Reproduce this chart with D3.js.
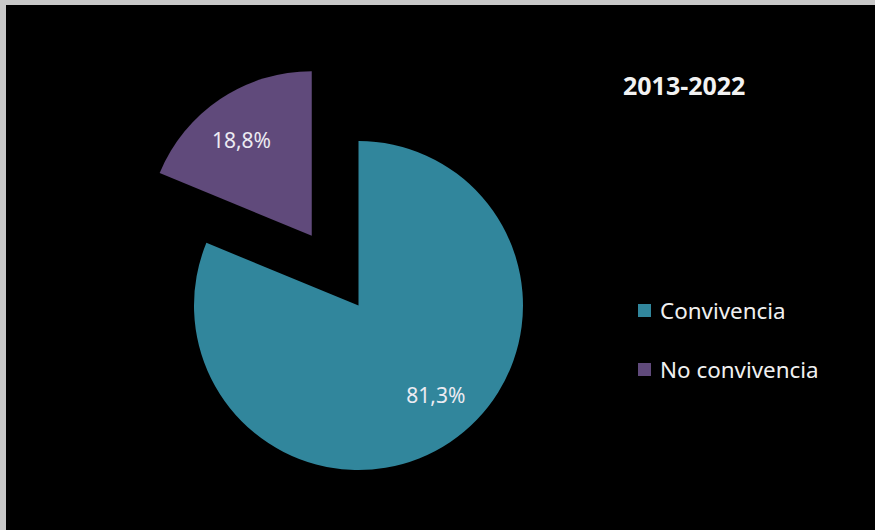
<!DOCTYPE html>
<html><head><meta charset="utf-8">
<script src="https://cdn.jsdelivr.net/npm/d3@7"></script>
<style>html,body{margin:0;padding:0;background:#000;}svg{display:block;}</style>
</head><body>
<script>
const categories = ["Convivencia", "No convivencia"];
const values = [81.3, 18.8];
const labels = ["81,3%", "18,8%"];
const colors = ["#31869C", "#604A7B"];
const title = "2013-2022";

const W = 875, H = 530;
const svg = d3.select("body").append("svg").attr("width", W).attr("height", H);
svg.append("rect").attr("width", W).attr("height", H).attr("fill", "#c8c8c8");
svg.append("rect").attr("x", 6).attr("y", 5).attr("width", W - 6).attr("height", H - 5).attr("fill", "#000");

const cx = 358.5, cy = 305.5, r = 164.5;
const explode = [0, 84];
const labelShiftDeg = [-7, -2.6];
const pie = d3.pie().sort(null).value(d => d)(values);
const arc = d3.arc().innerRadius(0).outerRadius(r);

const g = svg.append("g").attr("transform", `translate(${cx},${cy})`);
const slices = g.selectAll("g.slice").data(pie).enter().append("g").attr("class", "slice")
  .attr("transform", (d, i) => {
    const a = (d.startAngle + d.endAngle) / 2;
    return `translate(${Math.sin(a) * explode[i]},${-Math.cos(a) * explode[i]})`;
  });
slices.append("path").attr("d", arc).attr("fill", (d, i) => colors[i]);
slices.append("text")
  .attr("transform", (d, i) => {
    const a = (d.startAngle + d.endAngle) / 2 + labelShiftDeg[i] * Math.PI / 180;
    const lr = r * 0.72;
    return `translate(${Math.sin(a) * lr},${-Math.cos(a) * lr})`;
  })
  .attr("text-anchor", "middle").attr("dy", "0.35em")
  .attr("font-family", "Noto Sans").attr("font-size", 21)
  .attr("fill", "#ecebf2")
  .text((d, i) => labels[i]);

svg.append("text").attr("x", 623).attr("y", 95)
  .attr("font-family", "Noto Sans").attr("font-weight", "bold").attr("font-size", 25)
  .attr("fill", "#f2f2f2").text(title);

const leg = svg.append("g");
const items = leg.selectAll("g").data(categories).enter().append("g")
  .attr("transform", (d, i) => `translate(638,${304 + i * 59})`);
items.append("rect").attr("width", 13).attr("height", 13).attr("fill", (d, i) => colors[i]);
items.append("text").attr("x", 22).attr("y", 15)
  .attr("font-family", "Noto Sans").attr("font-size", 22.4)
  .attr("fill", "#f0f0f0").text(d => d);
</script>
</body></html>
